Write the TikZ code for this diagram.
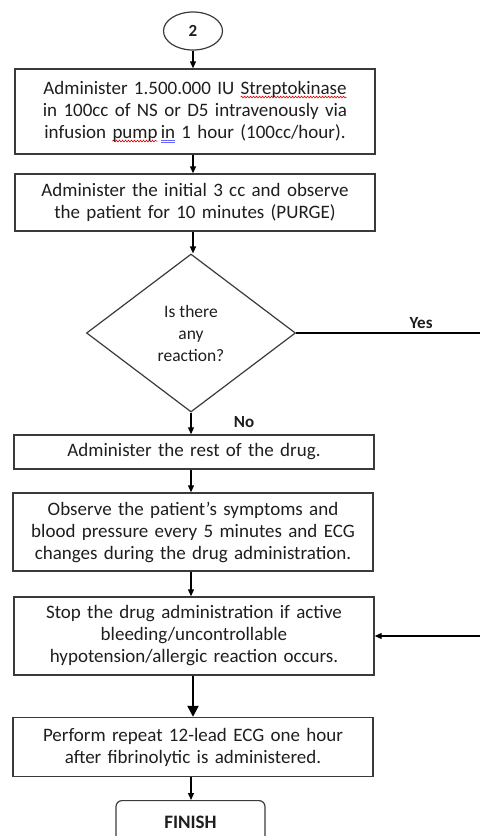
\documentclass[tikz,border=0pt]{standalone}
\usepackage{fontspec}
\setmainfont{Carlito}
\usetikzlibrary{shapes.geometric,arrows.meta,decorations.pathmorphing}
\definecolor{ink}{HTML}{1E1E1E}
\definecolor{edge}{HTML}{3A3A3A}
\newsavebox\wordbox
\newcommand\squigword[1]{\sbox\wordbox{#1}\rlap{\tikz[overlay]\draw[red!85!black,line width=0.6pt,decorate,decoration={snake,amplitude=0.9pt,segment length=3pt}] (0pt,-2.5pt) -- (\the\wd\wordbox,-2.5pt);}\usebox\wordbox}
\newcommand\dblword[1]{\sbox\wordbox{#1}\rlap{\tikz[overlay]\draw[blue!60!white,line width=0.6pt] (0pt,-2pt) -- (\the\wd\wordbox,-2pt) (0pt,-4pt) -- (\the\wd\wordbox,-4pt);}\usebox\wordbox}
\begin{document}
\begin{tikzpicture}[x=1pt,y=-1pt,
  font=\fontsize{19}{22}\selectfont,
  stepbox/.style={draw=edge,line width=1.4pt,text=ink,align=center,
    minimum width=360pt,text width=355pt,inner sep=0pt},
  conn/.style={draw=black,line width=1.2pt,-{Triangle[length=7pt,width=6pt]}},
  bigconn/.style={draw=black,line width=2.2pt,-{Triangle[length=11pt,width=11pt]}},
  plain/.style={draw=black,line width=1.2pt},
  lbl/.style={text=ink,font=\fontsize{17}{20}\selectfont\bfseries}]
\useasboundingbox (0,0) rectangle (480,836);
\clip (0,0) rectangle (480,836);
\node[draw=edge,line width=1.2pt,ellipse,minimum width=59pt,minimum height=38pt,inner sep=0pt,text=ink,font=\fontsize{17}{20}\selectfont\bfseries] (c2) at (193,31) {2};
\node[stepbox,minimum height=85pt] (b1) at (195,111.5) {Administer 1.500.000 IU \squigword{Streptokinase}\\in 100cc of NS or D5 intravenously via\\infusion \squigword{pump}\,\dblword{in} 1 hour (100cc/hour).};
\node[stepbox,minimum height=57pt] (b2) at (195,202.5) {Administer the initial 3 cc and observe\\the patient for 10 minutes (PURGE)};
\node[draw=edge,line width=1.2pt,diamond,aspect=1.32,minimum width=209pt,minimum height=158pt,inner sep=0pt,text=ink,align=center,font=\fontsize{17.5}{22}\selectfont] (d) at (191,333) {Is there\\any\\reaction?};
\node[stepbox,minimum height=34pt] (b3) at (194,452) {Administer the rest of the drug.};
\node[stepbox,minimum height=78pt] (b4) at (193,532) {Observe the patient’s symptoms and\\blood pressure every 5 minutes and ECG\\changes during the drug administration.};
\node[stepbox,minimum height=78pt] (b5) at (194,636) {Stop the drug administration if active\\bleeding/uncontrollable\\hypotension/allergic reaction occurs.};
\node[stepbox,minimum height=59pt] (b6) at (193,747) {Perform repeat 12-lead ECG one hour\\after fibrinolytic is administered.};
\node[draw=edge,line width=1.2pt,rounded corners=6pt,minimum width=149pt,minimum height=44pt,anchor=north,inner sep=0pt,text=ink,font=\fontsize{19}{22}\selectfont\bfseries] (fin) at (190.5,800) {FINISH};
\coordinate (yesend) at (480,333);
\coordinate (backstart) at (480,636);
\draw[conn] (c2.south) -- (c2.south |- b1.north);
\draw[conn] (c2.south |- b1.south) -- (c2.south |- b2.north);
\draw[conn] (c2.south |- b2.south) -- (c2.south |- d.north);
\draw[conn] (d.south) -- (d.south |- b3.north);
\draw[conn] (d.south |- b3.south) -- (d.south |- b4.north);
\draw[conn] (d.south |- b4.south) -- (d.south |- b5.north);
\draw[bigconn] (c2.south |- b5.south) -- (c2.south |- b6.north);
\draw[conn] (d.south |- b6.south) -- (d.south |- fin.north);
\draw[plain] (d.east) -- node[pos=0.68,above=0pt,lbl] {Yes} (yesend);
\node[lbl] (nolab) at (244,422) {No};
\draw[conn] (backstart) -- (b5.east);
\end{tikzpicture}
\end{document}
